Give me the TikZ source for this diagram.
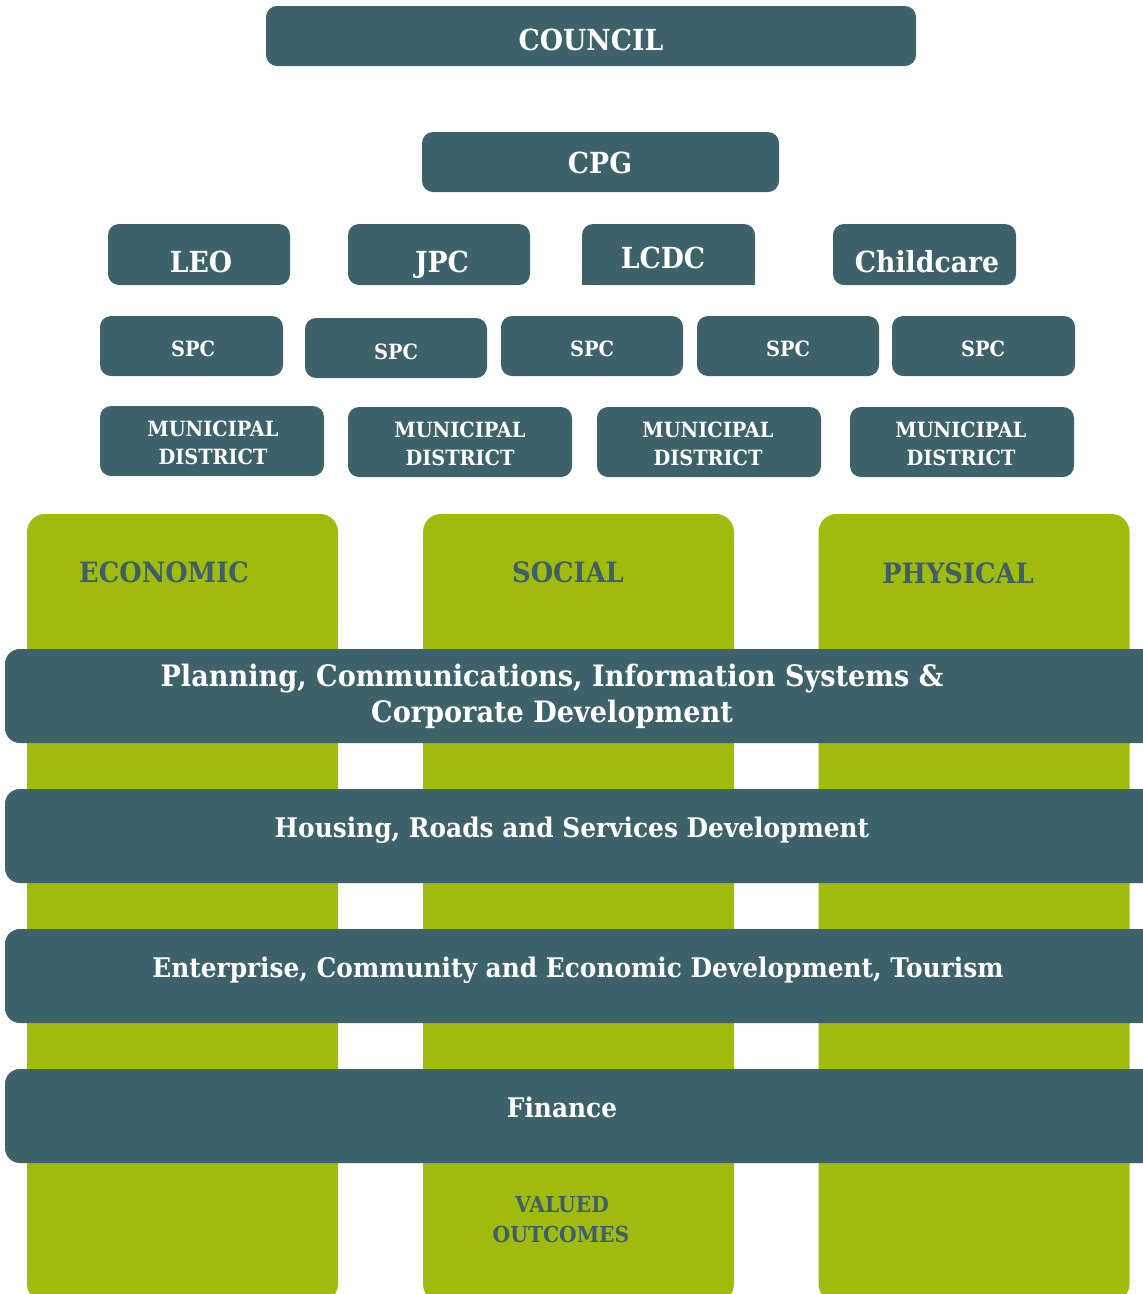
\documentclass[tikz,border=0pt]{standalone}
\usepackage{fontspec}
\setmainfont[FakeStretch=0.92]{DejaVu Serif}
\definecolor{tealbox}{HTML}{3D6269}
\definecolor{greencol}{HTML}{A0BB0C}
\definecolor{tealtext}{HTML}{3E5F68}
\begin{document}
\begin{tikzpicture}[x=1pt,y=-1pt,
  tb/.style={fill=tealbox, draw=none, rounded corners=11pt, inner sep=0pt},
  col/.style={fill=greencol, draw=none, rounded corners=18pt, inner sep=0pt, minimum width=311pt, minimum height=788pt},
  band/.style={fill=tealbox, draw=none, rounded corners=15pt, inner sep=0pt, minimum width=1158pt, minimum height=94pt},
  wt/.style={text=white, inner sep=0pt, anchor=base},
  gt/.style={text=tealtext, inner sep=0pt, anchor=base},
  fA/.style={font=\bfseries\fontsize{29}{34}\selectfont},
  fP/.style={font=\bfseries\fontsize{28}{33}\selectfont},
  fB/.style={font=\bfseries\fontsize{21}{25}\selectfont},
  fC/.style={font=\bfseries\fontsize{27}{32}\selectfont},
  fE/.style={font=\bfseries\fontsize{29.5}{34}\selectfont},
  fD/.style={font=\bfseries\fontsize{22}{26}\selectfont}]
\useasboundingbox (0,0) rectangle (1143,1294);
\fill[white] (0,0) rectangle (1143,1294);

% top boxes
\node[tb, minimum width=650pt, minimum height=60pt] (council) at (591,36) {};
\node[wt, fA] (councilT) at (591,50) {COUNCIL};
\node[tb, minimum width=357pt, minimum height=60pt] (cpg) at (600.5,162) {};
\node[wt, fA] (cpgT) at (600,173) {CPG};

\node[tb, minimum width=182pt, minimum height=61pt] (leo) at (199,254.5) {};
\node[wt, fA] (leoT) at (201,272) {LEO};
\node[tb, minimum width=182pt, minimum height=61pt] (jpc) at (439,254.5) {};
\node[wt, fA] (jpcT) at (442,272) {JPC};
\node[tb, minimum width=173pt, minimum height=61pt] (lcdc) at (668.5,254.5) {};
\fill[tealbox] (582,270) rectangle (755,285);
\node[wt, fA] (lcdcT) at (663,268) {LCDC};
\node[tb, minimum width=183pt, minimum height=61pt] (child) at (924.5,254.5) {};
\node[wt, fA] (childT) at (927,272) {Childcare};

% SPC row
\node[tb, minimum width=183pt, minimum height=60pt] (spc1) at (191.5,346) {};
\node[wt, fB] (spc1T) at (193,356) {SPC};
\node[tb, minimum width=182pt, minimum height=60pt] (spc2) at (396,348) {};
\node[wt, fB] (spc2T) at (396,359) {SPC};
\node[tb, minimum width=182pt, minimum height=60pt] (spc3) at (592,346) {};
\node[wt, fB] (spc3T) at (592,356) {SPC};
\node[tb, minimum width=182pt, minimum height=60pt] (spc4) at (788,346) {};
\node[wt, fB] (spc4T) at (788,356) {SPC};
\node[tb, minimum width=183pt, minimum height=60pt] (spc5) at (983.5,346) {};
\node[wt, fB] (spc5T) at (983,356) {SPC};

% municipal districts
\node[tb, minimum width=224pt, minimum height=70pt] (md1) at (212,441) {};
\node[wt, fB] (md1a) at (213,436) {MUNICIPAL};
\node[wt, fB] (md1b) at (213,464) {DISTRICT};
\node[tb, minimum width=224pt, minimum height=70pt] (md2) at (460,442) {};
\node[wt, fB] (md2a) at (460,437) {MUNICIPAL};
\node[wt, fB] (md2b) at (460,465) {DISTRICT};
\node[tb, minimum width=224pt, minimum height=70pt] (md3) at (709,442) {};
\node[wt, fB] (md3a) at (708,437) {MUNICIPAL};
\node[wt, fB] (md3b) at (708,465) {DISTRICT};
\node[tb, minimum width=224pt, minimum height=70pt] (md4) at (962,442) {};
\node[wt, fB] (md4a) at (961,437) {MUNICIPAL};
\node[wt, fB] (md4b) at (961,465) {DISTRICT};

% pillars
\node[col] (eco) at (182.5,908) {};
\node[col] (soc) at (578.5,908) {};
\node[col] (phy) at (974,908) {};
\node[gt, fP] (ecoT) at (164,582) {ECONOMIC};
\node[gt, fP] (socT) at (568,582) {SOCIAL};
\node[gt, fP] (phyT) at (958,583) {PHYSICAL};
\node[gt, fD] (valA) at (562,1212) {VALUED};
\node[gt, fD] (valB) at (561,1242) {OUTCOMES};

% bands
\node[band] (b1) at (584,696) {};
\node[wt, fE] (b1a) at (552,686) {Planning, Communications, Information Systems \&};
\node[wt, fE] (b1b) at (552,722) {Corporate Development};
\node[band] (b2) at (584,836) {};
\node[wt, fC] (b2T) at (572,837) {Housing, Roads and Services Development};
\node[band] (b3) at (584,976) {};
\node[wt, fC] (b3T) at (578,977) {Enterprise, Community and Economic Development, Tourism};
\node[band] (b4) at (584,1116) {};
\node[wt, fC] (b4T) at (562,1117) {Finance};
\end{tikzpicture}
\end{document}
